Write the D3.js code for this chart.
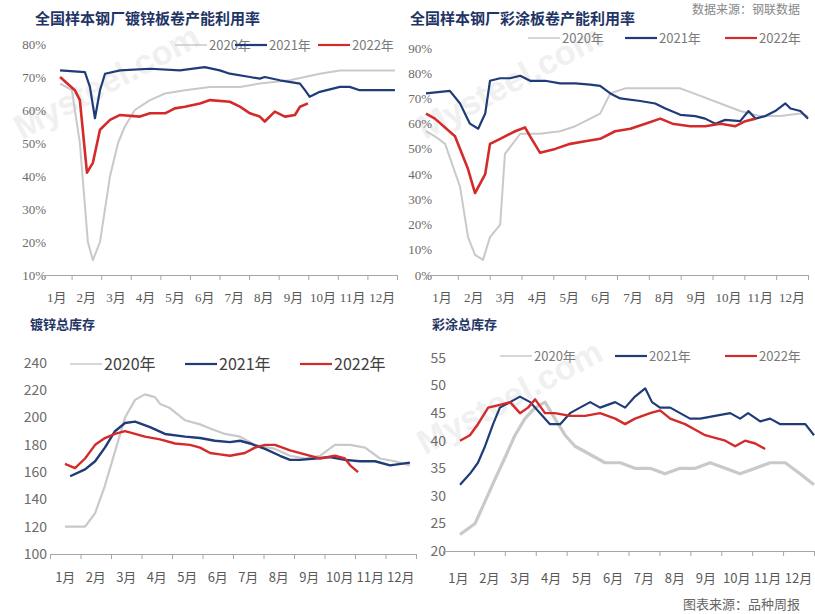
<!DOCTYPE html>
<html>
<head>
<meta charset="utf-8">
<script src="https://cdn.jsdelivr.net/npm/d3@7"></script>
<style>
body { margin: 0; background: #fff; }
svg { display: block; }
</style>
</head>
<body>
<svg width="815" height="614"></svg>
<script>
// month labels
var months = ["1月","2月","3月","4月","5月","6月","7月","8月","9月","10月","11月","12月"];
var years = ["2020年","2021年","2022年"];

// panel 1: galvanized capacity utilization (%), [month position, value]
var galvUse2020 = [[0.61,68],[1.01,66],[1.28,50],[1.55,20],[1.72,14.5],[1.96,20],[2.3,40],[2.57,50],[2.8,55],[3.14,60],[3.65,63],[4.16,65],[4.83,66],[5.68,67],[6.69,67],[7.36,68],[8.38,69],[9.39,71],[10.07,72],[11.08,72],[11.93,72]];
var galvUse2021 = [[0.61,72],[1.45,71.5],[1.62,67],[1.79,57.5],[1.96,66],[2.13,71],[2.64,72],[3.65,72.5],[4.66,72],[5.5,73],[6.01,72],[6.35,71],[7.03,70],[7.36,69.5],[7.53,70],[8.04,69],[8.72,68],[8.89,66],[9.05,64],[9.39,65.5],[10.07,67],[10.4,67],[10.74,66],[11.93,66]];
var galvUse2022 = [[0.61,70],[1.11,66],[1.28,63],[1.52,41],[1.72,44],[1.96,54],[2.3,57],[2.64,58.5],[3.31,58],[3.65,59],[4.16,59],[4.49,60.5],[4.83,61],[5.34,62],[5.68,63],[6.35,62.5],[6.69,61],[7.03,59],[7.36,58],[7.53,56.5],[7.87,59.5],[8.21,58],[8.55,58.5],[8.72,61],[8.99,62]];

// panel 2: color-coated capacity utilization (%)
var coatUse2020 = [[0,57],[0.28,55],[0.6,52],[1.07,35],[1.32,15],[1.54,8],[1.79,6],[2.01,15],[2.33,20],[2.48,48],[2.96,56],[3.58,56],[4.21,57],[4.69,59],[5.16,62],[5.47,64],[5.79,72],[6.26,74],[7.04,74],[7.99,74],[8.62,71],[9.25,68],[9.87,65],[10.5,63],[11.13,63],[11.76,64],[12,63]];
var coatUse2021 = [[0,72],[0.75,73],[1.07,68],[1.38,60],[1.64,58],[1.86,64],[2.01,77],[2.33,78],[2.64,78],[2.96,79],[3.27,77],[3.74,77],[4.21,76],[4.69,76],[5.16,75.5],[5.47,75],[5.79,72],[6.1,70],[6.73,69],[7.2,68],[7.52,66],[7.99,63.5],[8.46,63],[8.77,62],[9.09,60],[9.4,61.5],[9.87,61],[10.13,65],[10.35,62],[10.66,63],[10.97,65],[11.29,68],[11.45,66],[11.76,65],[12,62]];
var coatUse2022 = [[0,64],[0.28,62],[0.91,55],[1.32,42],[1.54,32.5],[1.86,40],[2.01,52],[2.33,54],[2.8,57],[3.11,58.5],[3.27,55],[3.58,48.5],[4.06,50],[4.53,52],[5.0,53],[5.47,54],[5.94,57],[6.42,58],[6.89,60],[7.36,62],[7.74,60],[8.3,59],[8.77,59],[9.25,60],[9.72,59],[10.03,61],[10.35,62]];

// panel 3: galvanized total inventory
var galvInv2020 = [[0.49,120],[1.15,120],[1.48,130],[1.8,150],[2.13,175],[2.46,200],[2.79,213],[3.11,217],[3.44,215],[3.61,210],[3.93,207],[4.43,198],[4.92,195],[5.25,192],[5.74,188],[6.23,186],[6.72,180],[7.38,177],[7.87,172],[8.36,170],[8.85,172],[9.34,180],[9.84,180],[10.33,178],[10.82,170],[11.31,168],[11.8,165]];
var galvInv2021 = [[0.66,157],[1.15,162],[1.48,168],[1.8,178],[2.13,190],[2.46,196],[2.79,197],[3.28,193],[3.77,188],[4.43,186],[4.92,185],[5.41,183],[5.9,182],[6.23,183],[6.56,181],[7.05,177],[7.54,172],[7.87,169],[8.2,169],[8.69,170],[9.18,171],[9.67,169],[10.16,168],[10.66,168],[11.15,165],[11.8,167]];
var galvInv2022 = [[0.49,166],[0.82,163],[1.15,170],[1.48,180],[1.8,185],[2.13,188],[2.46,190],[2.79,188],[3.11,186],[3.61,184],[4.1,181],[4.59,180],[4.92,178],[5.25,174],[5.57,173],[5.9,172],[6.39,174],[6.72,178],[7.05,180],[7.38,180],[7.87,176],[8.36,173],[8.85,170],[9.34,172],[9.67,170],[9.84,165],[10.1,160]];

// panel 4: color-coated total inventory
var coatInv2020 = [[0.55,23],[1.04,25],[1.36,29],[1.68,33],[2.01,37],[2.33,41],[2.65,44],[2.98,46],[3.3,47],[3.62,44],[3.95,41],[4.27,39],[4.6,38],[4.92,37],[5.24,36],[5.73,36],[6.21,35],[6.7,35],[7.18,34],[7.67,35],[8.16,35],[8.64,36],[9.13,35],[9.61,34],[10.1,35],[10.58,36],[11.07,36],[11.55,34],[12,32]];
var coatInv2021 = [[0.55,32],[0.87,34],[1.13,36],[1.36,39],[1.62,43],[1.84,46],[2.17,47],[2.49,48],[2.82,47],[3.14,45],[3.46,43],[3.79,43],[4.11,45],[4.43,46],[4.76,47],[5.08,46],[5.57,47],[5.89,46],[6.21,48],[6.54,49.5],[6.76,47],[7.02,46],[7.35,46],[7.67,45],[7.99,44],[8.32,44],[8.8,44.5],[9.29,45],[9.61,44],[9.87,45],[10.26,43.5],[10.58,44],[10.91,43],[11.39,43],[11.72,43],[12,41]];
var coatInv2022 = [[0.55,40],[0.87,41],[1.13,43],[1.46,46],[1.84,46.5],[2.17,47],[2.49,45],[2.75,46],[2.98,47.5],[3.3,45],[3.62,45],[4.11,44.5],[4.6,44.5],[5.08,45],[5.57,44],[5.89,43],[6.21,44],[6.7,45],[7.02,45.5],[7.35,44],[7.83,43],[8.16,42],[8.48,41],[8.8,40.5],[9.13,40],[9.45,39],[9.77,40],[10.1,39.5],[10.42,38.5]];

var colors = ["#c9c9c9", "#1f3b78", "#d42a2a"];

var svg = d3.select("svg");

// faint watermarks
function watermark(x, y, size) {
  svg.append("text")
    .attr("transform", "translate(" + x + "," + y + ") rotate(-28)")
    .attr("font-family", "Liberation Sans, sans-serif")
    .attr("font-size", size)
    .attr("font-weight", "bold")
    .attr("fill", "#f0f0f0")
    .text("Mysteel.com");
}
watermark(22, 140, 34);
watermark(425, 140, 34);
watermark(425, 455, 34);

var panels = [
  { title: "全国样本钢厂镀锌板卷产能利用率", tx: 35, ty: 24, x0: 42, x1: 397, yMin: 10, yMax: 80, y0: 275, y1: 44, step: 10,
    pct: true, labX: 46, monY: 302, series: [galvUse2020, galvUse2021, galvUse2022], serif: true,
    legend: [[175, 45], [235, 45], [318, 45]], legSize: 13, widths: [2, 2.2, 2.6] },
  { title: "全国样本钢厂彩涂板卷产能利用率", tx: 410, ty: 24, x0: 426, x1: 808, yMin: 0, yMax: 90, y0: 275, y1: 48, step: 10,
    pct: true, labX: 432, monY: 302, series: [coatUse2020, coatUse2021, coatUse2022], serif: true,
    legend: [[528, 38], [625, 38], [725, 38]], legSize: 13, widths: [2, 2.2, 2.6] },
  { title: "镀锌总库存", tx: 30, ty: 329, x0: 50, x1: 416, yMin: 100, yMax: 240, y0: 554, y1: 363, step: 20,
    pct: false, labX: 47, monY: 582, series: [galvInv2020, galvInv2021, galvInv2022], serif: false,
    legend: [[70, 364], [185, 364], [300, 364]], legSize: 16, widths: [2.2, 2.4, 2.4] },
  { title: "彩涂总库存", tx: 432, ty: 329, x0: 443, x1: 814, yMin: 20, yMax: 55, y0: 551, y1: 358, step: 5,
    pct: false, labX: 446, monY: 583, series: [coatInv2020, coatInv2021, coatInv2022], serif: false,
    legend: [[500, 356], [615, 356], [725, 356]], legSize: 13, widths: [3.2, 2.2, 2.4] }
];

panels.forEach(function(p) {
  var g = svg.append("g");
  var tickFont = p.serif ? "Liberation Serif, Noto Sans CJK SC, serif" : "Noto Sans CJK SC, sans-serif";

  var x = d3.scaleLinear().domain([0, 12]).range([p.x0, p.x1]);
  var y = d3.scaleLinear().domain([p.yMin, p.yMax]).range([p.y0, p.y1]);

  g.append("text")
    .attr("x", p.tx).attr("y", p.ty)
    .attr("font-family", "Noto Sans CJK SC, sans-serif")
    .attr("font-weight", "bold")
    .attr("font-size", p.serif ? 15 : 13)
    .attr("fill", "#1f3566")
    .text(p.title);

  // y labels
  var yTicks = d3.range(p.yMin, p.yMax + 0.001, p.step);
  g.selectAll(".yl").data(yTicks).enter().append("text")
    .attr("x", p.labX).attr("y", function(d) { return y(d); })
    .attr("dy", "0.35em")
    .attr("text-anchor", "end")
    .attr("font-family", tickFont)
    .attr("font-size", p.serif ? 13 : 14)
    .attr("fill", "#6b6b6b")
    .text(function(d) { return p.pct ? d + "%" : d; });

  // x axis
  var xAxis = d3.axisBottom(x).tickValues(d3.range(0, 13)).tickSize(5).tickFormat("");
  var ax = g.append("g").attr("transform", "translate(0," + p.y0 + ")").call(xAxis);
  ax.select(".domain").attr("stroke", "#a6a6a6");
  ax.selectAll(".tick line").attr("stroke", "#a6a6a6");

  g.selectAll(".ml").data(months).enter().append("text")
    .attr("x", function(d, i) { return x(i + 0.5); })
    .attr("y", p.monY)
    .attr("text-anchor", "middle")
    .attr("font-family", tickFont)
    .attr("font-size", 13)
    .attr("fill", "#595959")
    .text(function(d) { return d; });

  var line = d3.line()
    .x(function(d) { return x(d[0]); })
    .y(function(d) { return y(d[1]); });

  p.series.forEach(function(s, i) {
    g.append("path")
      .datum(s)
      .attr("fill", "none")
      .attr("stroke", colors[i])
      .attr("stroke-width", p.widths[i])
      .attr("stroke-linejoin", "round")
      .attr("d", line);
  });

  // legend
  p.legend.forEach(function(pos, i) {
    g.append("line")
      .attr("x1", pos[0]).attr("x2", pos[0] + 32)
      .attr("y1", pos[1]).attr("y2", pos[1])
      .attr("stroke", colors[i]).attr("stroke-width", i == 0 ? 1.5 : 2.2);
    g.append("text")
      .attr("x", pos[0] + 34).attr("y", pos[1])
      .attr("dy", "0.35em")
      .attr("font-family", "Noto Sans CJK SC, sans-serif")
      .attr("font-size", p.legSize)
      .attr("fill", p.legSize > 14 ? "#404040" : "#7a7a7a")
      .text(years[i]);
  });
});

// sources
svg.append("text").attr("x", 692).attr("y", 14)
  .attr("font-family", "Noto Sans CJK SC, sans-serif").attr("font-size", 12).attr("fill", "#888")
  .text("数据来源：钢联数据");
svg.append("text").attr("x", 683).attr("y", 609)
  .attr("font-family", "Noto Sans CJK SC, sans-serif").attr("font-size", 13).attr("fill", "#666")
  .text("图表来源：品种周报");
</script>
</body>
</html>
